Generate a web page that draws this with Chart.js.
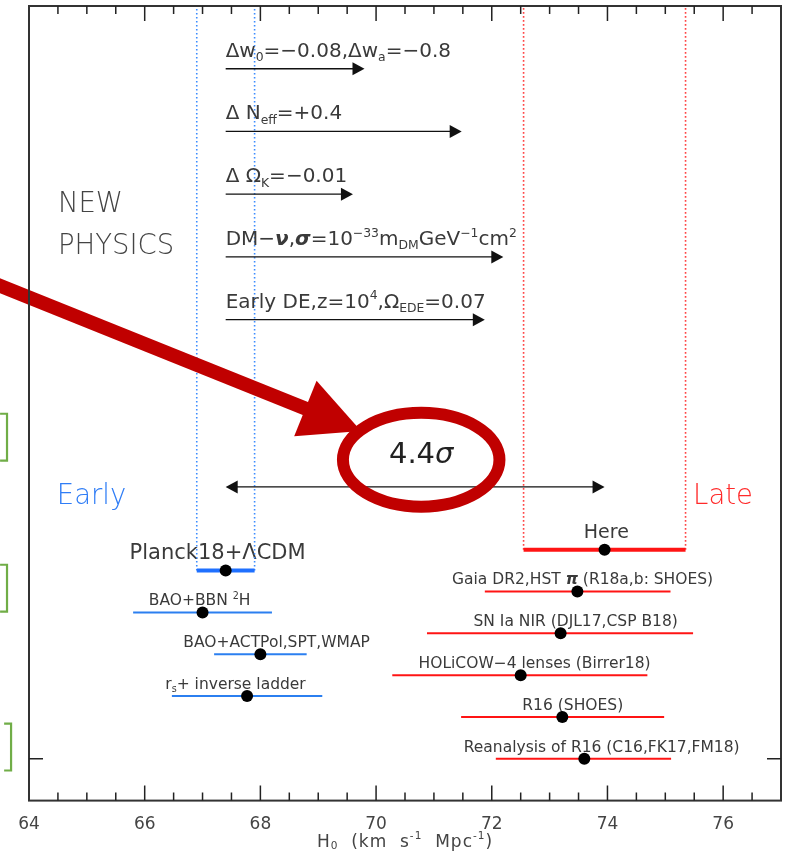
<!DOCTYPE html>
<html lang="en">
<head>
<meta charset="UTF-8">
<title>H0 early vs late</title>
<script src="https://cdn.jsdelivr.net/npm/chart.js@4.4.1/dist/chart.umd.min.js"></script>
<style>
  html, body { margin: 0; padding: 0; background: #fff; }
  #wrap { width: 787px; height: 861px; }
</style>
</head>
<body>
<div id="wrap"><canvas id="chart" width="787" height="861"></canvas></div>
<script>
// H0 measurements (km/s/Mpc): central value, lower and upper end of the bar
const names = ['Planck18+ΛCDM', 'BAO+BBN ^{2}H', 'BAO+ACTPol,SPT,WMAP', 'r_{s}+ inverse ladder',
               'Here', 'Gaia DR2,HST #{π} (R18a,b: SHOES)', 'SN Ia NIR (DJL17,CSP B18)',
               'HOLiCOW−4 lenses (Birrer18)', 'R16 (SHOES)', 'Reanalysis of R16 (C16,FK17,FM18)'];
const h0    = [67.4, 67.0, 68.0, 67.77, 73.95, 73.48, 73.19, 72.5, 73.22, 73.6];
const lo    = [66.9, 65.8, 67.2, 66.47, 72.55, 71.88, 70.88, 70.28, 71.47, 72.07];
const hi    = [67.9, 68.2, 68.8, 69.07, 75.35, 75.09, 75.48, 74.69, 74.98, 75.1];
const rows  = [5.5, 4.5, 3.5, 2.5, 6, 5, 4, 3, 2, 1];
const group = ['early', 'early', 'early', 'early', 'late', 'late', 'late', 'late', 'late', 'late'];
const headline = ['Planck18+ΛCDM', 'Here'];

// new-physics shifts, drawn as arrows starting from the Planck value
const physLabels = ['Δw_{0}=−0.08,Δw_{a}=−0.8', 'Δ N_{eff}=+0.4', 'Δ Ω_{K}=−0.01',
                    'DM−#{ν},#{σ}=10^{−33}m_{DM}GeV^{−1}cm^{2}', 'Early DE,z=10^{4},Ω_{EDE}=0.07'];
const physEnd  = [69.8, 71.48, 69.6, 72.2, 71.88];
const physRows = [17.5, 16, 14.5, 13, 11.5];

const xTicks = [64, 66, 68, 70, 72, 74, 76];
const tension = '4.4*{σ}';

// label anchors (x centre of each measurement label)
const labelAt = [67.26, 66.95, 68.28, 67.57, 73.98, 73.57, 73.45, 72.74, 73.4, 73.9];

const FONT = '"DejaVu Sans", sans-serif';
const TXT = '#3a3a3a';
const BLUE = '#2b7ff0', RED = '#ff1414';

// text with _{sub}, ^{sup}, *{italic}, #{bold italic}
function rich(ctx, str, x, y, size, o) {
  const parts = [];
  const re = /([_^*#])\{([^}]*)\}|([^_^*#]+)/g;
  let m;
  while ((m = re.exec(str))) {
    if (m[3]) parts.push({ t: m[3], k: '' });
    else parts.push({ t: m[2], k: m[1] });
  }
  const w = o.weight || 'normal';
  const fontOf = p => {
    const s = (p.k === '_' || p.k === '^') ? size * 0.62 : size;
    const st = p.k === '*' ? 'italic ' + w + ' ' : p.k === '#' ? 'italic bold ' : w + ' ';
    return st + s + 'px ' + FONT;
  };
  ctx.letterSpacing = o.spacing || '0px';
  let total = 0;
  parts.forEach(p => { ctx.font = fontOf(p); p.w = ctx.measureText(p.t).width; total += p.w; });
  let cx = o.align === 'center' ? x - total / 2 : x;
  ctx.textAlign = 'left';
  ctx.textBaseline = o.baseline || 'alphabetic';
  ctx.fillStyle = o.color || TXT;
  parts.forEach(p => {
    ctx.font = fontOf(p);
    const dy = p.k === '_' ? size * 0.22 : p.k === '^' ? -size * 0.42 : 0;
    ctx.fillText(p.t, cx, y + dy);
    cx += p.w;
  });
  ctx.letterSpacing = '0px';
}

function head(ctx, x, y, dir, len, half) {
  ctx.beginPath();
  ctx.moveTo(x, y);
  ctx.lineTo(x - dir * len, y - half);
  ctx.lineTo(x - dir * len, y + half);
  ctx.closePath();
  ctx.fill();
}

// error bars and dotted bands, built from the arrays
const datasets = [{
  type: 'scatter',
  data: h0.map((v, i) => ({ x: v, y: rows[i] })),
  pointRadius: 6, pointHoverRadius: 6,
  backgroundColor: '#000', borderColor: '#000', borderWidth: 0
}];
names.forEach((n, i) => {
  const big = headline.includes(n);
  datasets.push({
    type: 'line',
    data: [{ x: lo[i], y: rows[i] }, { x: hi[i], y: rows[i] }],
    borderColor: group[i] === 'early' ? (big ? '#1f70ff' : BLUE) : RED,
    borderWidth: big ? 4 : 2,
    pointRadius: 0
  });
  if (big) {
    [lo[i], hi[i]].forEach(v => datasets.push({
      type: 'line',
      data: [{ x: v, y: rows[i] }, { x: v, y: 19 }],
      borderColor: group[i] === 'early' ? '#3b8cff' : '#ff4545',
      borderWidth: 1.6, borderDash: [1.6, 2.4], pointRadius: 0
    }));
  }
});

const deco = {
  id: 'deco',
  beforeDatasetsDraw(chart) {
    const { ctx } = chart;
    const xs = chart.scales.x, ys = chart.scales.y;
    ctx.save();
    names.forEach((n, i) => {
      const big = headline.includes(n);
      rich(ctx, n, xs.getPixelForValue(labelAt[i]), ys.getPixelForValue(rows[i]) - (big ? 12 : 7),
           big ? (n === 'Here' ? 19 : 21) : 15.5, { align: 'center' });
    });
    ctx.restore();
  },
  afterDatasetsDraw(chart) {
    const { ctx, chartArea: a } = chart;
    const xs = chart.scales.x, ys = chart.scales.y;
    const X = v => xs.getPixelForValue(v), Y = v => ys.getPixelForValue(v);
    ctx.save();

    // new physics arrows
    ctx.strokeStyle = '#111'; ctx.fillStyle = '#111'; ctx.lineWidth = 1.3;
    physLabels.forEach((t, i) => {
      const y = Y(physRows[i]), x0 = X(h0[0]), x1 = X(physEnd[i]);
      ctx.beginPath(); ctx.moveTo(x0, y); ctx.lineTo(x1 - 8, y); ctx.stroke();
      ctx.fillStyle = '#111';
      head(ctx, x1, y, 1, 12, 6.5);
      rich(ctx, t, x0, y - 12, 20, {});
    });
    rich(ctx, 'NEW', X(64.5), Y(14.24), 27.5, { baseline: 'middle', weight: '300', color: '#444' });
    rich(ctx, 'PHYSICS', X(64.5), Y(13.24), 27.5, { baseline: 'middle', weight: '300', color: '#444' });
    rich(ctx, 'Early', X(64.48), Y(7.27), 27.5, { baseline: 'middle', weight: '300', color: '#2f7df6' });
    rich(ctx, 'Late', X(75.48), Y(7.27), 27.5, { baseline: 'middle', weight: '300', color: '#ff2a2a' });

    // early-late gap
    const gy = Y(7.5), g0 = X(h0[0]), g1 = X(h0[4]);
    ctx.strokeStyle = '#111'; ctx.fillStyle = '#111'; ctx.lineWidth = 1.3;
    ctx.beginPath(); ctx.moveTo(g0 + 8, gy); ctx.lineTo(g1 - 8, gy); ctx.stroke();
    head(ctx, g1, gy, 1, 12, 6.5);
    head(ctx, g0, gy, -1, 12, 6.5);

    // big red pointer
    const sx = X(63.3), sy = Y(12.42), tx = X(69.74), ty = Y(8.84);
    const dx = tx - sx, dy = ty - sy, L = Math.hypot(dx, dy);
    const ux = dx / L, uy = dy / L, hl = 60, hw = 30;
    const bx = tx - ux * hl, by = ty - uy * hl;
    ctx.strokeStyle = '#c00000'; ctx.fillStyle = '#c00000'; ctx.lineWidth = 14;
    ctx.beginPath(); ctx.moveTo(sx, sy); ctx.lineTo(bx + ux * 2, by + uy * 2); ctx.stroke();
    ctx.beginPath();
    ctx.moveTo(tx, ty);
    ctx.lineTo(bx - uy * hw, by + ux * hw);
    ctx.lineTo(bx + uy * hw, by - ux * hw);
    ctx.closePath(); ctx.fill();

    // ring around the tension
    const ex = X(70.78), ey = Y(8.15);
    ctx.lineWidth = 12;
    ctx.beginPath();
    ctx.ellipse(ex, ey, X(70.78 + 1.353) - ex, ey - Y(8.15 + 1.123), 0, 0, Math.PI * 2);
    ctx.stroke();
    rich(ctx, tension, X(70.78), Y(8.25), 29, { align: 'center', baseline: 'middle', color: '#222' });

    // green slide brackets at the left edge
    ctx.strokeStyle = '#70ad47'; ctx.lineWidth = 2.2;
    [[9.25, 8.13, 63.62, 63.5], [5.64, 4.52, 63.62, 63.5], [1.84, 0.72, 63.69, 63.57]].forEach(b => {
      ctx.beginPath();
      ctx.moveTo(X(b[3]), Y(b[0])); ctx.lineTo(X(b[2]), Y(b[0]));
      ctx.lineTo(X(b[2]), Y(b[1])); ctx.lineTo(X(b[3]), Y(b[1]));
      ctx.stroke();
    });

    // frame and inward ticks
    ctx.strokeStyle = '#333'; ctx.lineWidth = 2;
    ctx.strokeRect(a.left, a.top, a.right - a.left, a.bottom - a.top);
    ctx.lineWidth = 1.5; ctx.strokeStyle = '#222';
    for (let v = 64.5; v < 77; v += 0.5) {
      const len = xTicks.includes(v) ? 15 : 8, px = X(v);
      ctx.beginPath();
      ctx.moveTo(px, a.bottom); ctx.lineTo(px, a.bottom - len);
      ctx.moveTo(px, a.top); ctx.lineTo(px, a.top + len);
      ctx.stroke();
    }
    ctx.beginPath();
    ctx.moveTo(a.left, Y(1)); ctx.lineTo(a.left + 14, Y(1));
    ctx.moveTo(a.right, Y(1)); ctx.lineTo(a.right - 14, Y(1));
    ctx.stroke();

    // axis title
    rich(ctx, 'H_{0}  (km  s^{-1}  Mpc^{-1})', (a.left + a.right) / 2, 843, 17,
         { align: 'center', baseline: 'middle', color: '#444', spacing: '1px' });
    ctx.restore();
  }
};

new Chart(document.getElementById('chart'), {
  type: 'scatter',
  data: { datasets },
  options: {
    responsive: false,
    animation: false,
    devicePixelRatio: 1,
    layout: { padding: { left: 29, right: 6, top: 6, bottom: 12 } },
    plugins: { legend: { display: false }, tooltip: { enabled: false } },
    scales: {
      x: {
        type: 'linear', min: 64, max: 77,
        afterBuildTicks: s => { s.ticks = xTicks.map(v => ({ value: v })); },
        grid: { display: false, drawTicks: false },
        border: { display: false },
        ticks: { padding: 14, color: '#444', font: { family: FONT, size: 17 } }
      },
      y: { type: 'linear', min: 0, max: 19, display: false }
    }
  },
  plugins: [deco]
});
</script>
</body>
</html>
